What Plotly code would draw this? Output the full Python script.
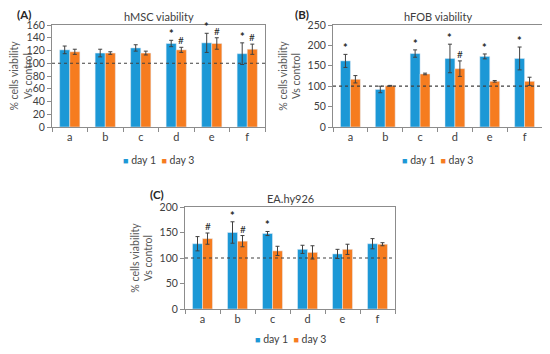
import plotly.graph_objects as go

categories = ["a", "b", "c", "d", "e", "f"]
series_names = ["day 1", "day 3"]

# Panel A: hMSC viability
a_day1 = [121, 116, 124, 131, 132, 115]
a_day1_err = [6, 6, 5, 5, 15, 17]
a_day3 = [118, 116, 116, 121, 131, 122]
a_day3_err = [4, 2, 3, 4, 9, 8]
a_day1_mark = ["", "", "", "*", "*", "*"]
a_day3_mark = ["", "", "", "#", "#", "#"]

# Panel B: hFOB viability
b_day1 = [162, 92, 180, 168, 173, 168]
b_day1_err = [16, 8, 9, 35, 6, 28]
b_day3 = [117, 101, 130, 143, 112, 112]
b_day3_err = [9, 1, 2, 19, 2, 10]
b_day1_mark = ["*", "", "*", "*", "*", "*"]
b_day3_mark = ["", "", "", "#", "", ""]

# Panel C: EA.hy926
c_day1 = [128, 150, 148, 117, 108, 128]
c_day1_err = [14, 21, 4, 8, 9, 10]
c_day3 = [138, 133, 114, 111, 117, 127]
c_day3_err = [11, 11, 9, 13, 10, 3]
c_day1_mark = ["", "*", "*", "", "", ""]
c_day3_mark = ["#", "#", "", "", "", ""]

titles = ["hMSC viability", "hFOB viability", "EA.hy926"]
panel_labels = ["(A)", "(B)", "(C)"]
y_ranges = [[0, 160], [0, 250], [0, 200]]
y_dticks = [20, 50, 50]

BLUE = "#1c98d6"
ORANGE = "#f67c1f"
COLORS = [BLUE, ORANGE]
FONT = "Lato, Open Sans, sans-serif"

# the page body has a default 8px margin; the figure fills the rest of the window
OFF = 8
W, H = 550 - 2 * OFF, 354 - 2 * OFF


def px(xs):
    return (xs - OFF) / W


def py(ys):
    return 1 - (ys - OFF) / H


# plot areas in window pixels (left, right, top, bottom)
areas = [(52, 265, 25, 127), (333, 542, 25, 127), (185, 395, 207, 309)]
legend_y_px = [160, 160, 339]
label_px = [(24, 14.5), (302, 14.5), (157, 194)]

panels = [
    (a_day1, a_day1_err, a_day3, a_day3_err, a_day1_mark, a_day3_mark),
    (b_day1, b_day1_err, b_day3, b_day3_err, b_day1_mark, b_day3_mark),
    (c_day1, c_day1_err, c_day3, c_day3_err, c_day1_mark, c_day3_mark),
]

fig = go.Figure()
annotations = []
shapes = []
layout = {}

for i, (d1, e1, d3, e3, m1, m3) in enumerate(panels):
    sfx = "" if i == 0 else str(i + 1)
    xa, ya = "x" + sfx, "y" + sfx
    l, r, t, b = areas[i]
    for vals, errs, name, col in [(d1, e1, series_names[0], BLUE), (d3, e3, series_names[1], ORANGE)]:
        fig.add_trace(go.Bar(x=categories, y=vals, name=name, marker_color=col,
                             error_y=dict(type="data", array=errs, color="#404040", thickness=1, width=2),
                             xaxis=xa, yaxis=ya, showlegend=False))
    layout["xaxis" + sfx] = dict(
        domain=[px(l), px(r)], anchor=ya, type="category", range=[-0.5, 5.5], automargin=False,
        showline=True, linecolor="#8c8c8c", linewidth=1, mirror=True,
        ticks="outside", tickson="boundaries", ticklen=4, tickcolor="#8c8c8c",
        tickfont=dict(size=11, color="#404040", family=FONT), showgrid=False, fixedrange=True)
    layout["yaxis" + sfx] = dict(
        domain=[py(b), py(t)], anchor=xa, range=y_ranges[i], dtick=y_dticks[i],
        automargin=False,
        showline=True, linecolor="#8c8c8c", linewidth=1, mirror=True,
        ticks="outside", ticklen=4, tickcolor="#8c8c8c", showgrid=False, zeroline=False,
        tickfont=dict(size=10.5, color="#404040", family=FONT),
        title=dict(text="% cells viability<br>Vs control", standoff=4,
                   font=dict(size=10.5, color="#595959", family=FONT)))
    # legend (compact, like the reference)
    leg_text = "  ".join(
        '<span style="color:%s;font-size:9px">■</span> %s' % (c, n)
        for c, n in zip(COLORS, series_names))
    annotations.append(dict(text=leg_text, xref="paper", yref="paper", x=px((l + r) / 2),
                            y=py(legend_y_px[i]), yanchor="middle", xanchor="center",
                            showarrow=False, font=dict(size=10.5, color="#404040", family=FONT)))
    # reference line at 100%
    shapes.append(dict(type="line", xref=xa + " domain", yref=ya, x0=0, x1=1, y0=100, y1=100,
                       line=dict(color="#404040", width=1.2, dash="dot")))
    # title and panel label
    annotations.append(dict(text=titles[i], xref="paper", yref="paper", x=px((l + r) / 2),
                            y=py(t - 9), yanchor="middle", xanchor="center", showarrow=False,
                            font=dict(size=11, color="#404040", family=FONT)))
    lx, ly = label_px[i]
    annotations.append(dict(text="<b>" + panel_labels[i] + "</b>", xref="paper", yref="paper",
                            x=px(lx), y=py(ly), yanchor="middle", xanchor="center", showarrow=False,
                            font=dict(size=11.5, color="#262626", family=FONT)))
    # significance marks
    for vals, errs, marks, shift in [(d1, e1, m1, -5), (d3, e3, m3, 5)]:
        for c, v, e, m in zip(categories, vals, errs, marks):
            if m:
                annotations.append(dict(text="<b>" + m + "</b>" if m == "*" else m,
                                        x=c, y=v + e, xref=xa, yref=ya, xshift=shift,
                                        xanchor="center", yanchor="bottom", showarrow=False,
                                        yshift=-2 if m == "*" else -1,
                                        font=dict(size=11 if m == "*" else 10,
                                                  color="#262626", family=FONT)))

fig.update_layout(
    width=W, height=H, margin=dict(l=0, r=0, t=0, b=0),
    paper_bgcolor="white", plot_bgcolor="white", showlegend=False,
    barmode="group", bargap=0.43, bargroupgap=0,
    shapes=shapes, annotations=annotations, **layout)

fig.write_html("out.html")
